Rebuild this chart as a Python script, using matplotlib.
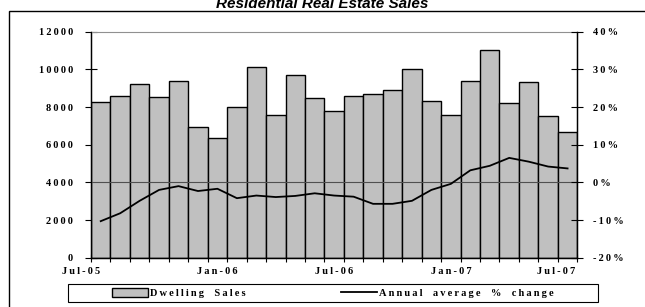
import matplotlib.pyplot as plt
from matplotlib.patches import Rectangle
from matplotlib.transforms import ScaledTranslation
import numpy as np

# monthly dwelling sales, Jul-05 .. Jul-07
months = ["Jul-05", "Aug-05", "Sep-05", "Oct-05", "Nov-05", "Dec-05",
          "Jan-06", "Feb-06", "Mar-06", "Apr-06", "May-06", "Jun-06",
          "Jul-06", "Aug-06", "Sep-06", "Oct-06", "Nov-06", "Dec-06",
          "Jan-07", "Feb-07", "Mar-07", "Apr-07", "May-07", "Jun-07", "Jul-07"]
sales = [8260, 8560, 9220, 8510, 9380, 6920, 6370, 7980, 10120, 7590, 9680, 8460,
         7800, 8600, 8710, 8880, 10000, 8300, 7590, 9400, 11010, 8210, 9310, 7500, 6690]
annual_change = [-10.3, -8.2, -4.9, -2.0, -1.0, -2.3, -1.7, -4.2, -3.5, -3.9, -3.6, -2.9,
                 -3.5, -3.8, -5.7, -5.7, -4.9, -2.0, -0.4, 3.2, 4.4, 6.5, 5.5, 4.2, 3.7]

left_ticks = [0, 2000, 4000, 6000, 8000, 10000, 12000]
right_ticks = [-20, -10, 0, 10, 20, 30, 40]
label_months = ["Jul-05", "Jan-06", "Jul-06", "Jan-07", "Jul-07"]

serif = ["Liberation Serif", "DejaVu Serif"]
W, H = 645, 307


def spaced(s):
    # the original chart draws its axis texts letter-spaced
    return "\u2009".join(s)


fig = plt.figure(figsize=(6.45, 3.07), dpi=100)
ax = fig.add_axes([91 / W, 1 - 257.7 / H, (577.3 - 91) / W, (257.7 - 31.7) / H])

x = np.arange(len(months))
ax.bar(x, sales, width=1.0, color="#c0c0c0", edgecolor="black", linewidth=1.0,
       label=spaced("Dwelling") + "\u2003" + spaced("Sales"), zorder=2)
ax.set_ylim(0, 12000)
ax.set_yticks(left_ticks)
ax.set_yticklabels([spaced(str(v)) for v in left_ticks])
ax.tick_params(axis="y", direction="inout", length=8, width=0.8, pad=9,
               labelsize=7.5)

# tick marks at month boundaries, labels every six months
ax.set_xticks(np.arange(-0.5, len(months), 1.0), minor=True)
ax.set_xticks([months.index(m) for m in label_months])
ax.set_xticklabels([spaced(m) for m in label_months])
ax.set_xlim(-0.5, len(months) - 0.5)
ax.tick_params(axis="x", which="minor", direction="inout", length=6, width=0.8)
ax.tick_params(axis="x", which="major", length=0, pad=7, labelsize=7.5)

for lab in ax.get_xticklabels() + ax.get_yticklabels():
    lab.set_family(serif)
    lab.set_fontweight("bold")

# the end labels sit a little inside the chart
xlabs = ax.get_xticklabels()
xlabs[0].set_transform(xlabs[0].get_transform()
                       + ScaledTranslation(-0.20, 0, fig.dpi_scale_trans))
xlabs[-1].set_transform(xlabs[-1].get_transform()
                        + ScaledTranslation(-0.11, 0, fig.dpi_scale_trans))

ax.spines["top"].set_color("#909090")
ax.spines["top"].set_linewidth(0.8)
for s in ["left", "bottom", "right"]:
    ax.spines[s].set_linewidth(1.0)

ax2 = ax.twinx()
ax2.set_ylim(-20, 40)
ax2.axhline(0, color="#505050", linewidth=0.8, zorder=1)
line_label = "\u2003".join(spaced(w) for w in "Annual average % change".split())
ax2.plot(x, annual_change, color="black", linewidth=1.3, label=line_label)
ax2.set_yticks(right_ticks)
ax2.set_yticklabels([spaced(f"{v}%") for v in right_ticks])
ax2.tick_params(axis="y", direction="inout", length=8, width=0.8, pad=7,
                labelsize=7.5)
for lab in ax2.get_yticklabels():
    lab.set_family(serif)
    lab.set_fontweight("bold")
ax2.spines["top"].set_visible(False)
ax2.set_xlim(-0.5, len(months) - 0.5)

# title, partly cut by the top edge as in the original
fig.text(322 / W, 1 - 8 / H, "Residential Real Estate Sales", ha="center",
         va="baseline", fontsize=11, fontweight="bold", style="italic",
         family=["Liberation Sans", "DejaVu Sans"])

# outer chart frame (cropped at right and bottom)
fig.add_artist(Rectangle((9 / W, -0.2), 1.2, 1.2 - 11 / H,
                         transform=fig.transFigure, fill=False,
                         edgecolor="black", linewidth=1.0))

# legend box
fig.add_artist(Rectangle((68 / W, 1 - 302 / H), (598 - 68) / W, 18 / H,
                         transform=fig.transFigure, fill=False,
                         edgecolor="black", linewidth=0.8))
h1, l1 = ax.get_legend_handles_labels()
h2, l2 = ax2.get_legend_handles_labels()
fig.legend(h1 + h2, l1 + l2, ncol=2, loc="center",
           bbox_to_anchor=(333 / W, 1 - 293 / H), frameon=False,
           prop={"family": serif, "weight": "bold", "size": 7.5},
           handlelength=3.4, handleheight=0.9, borderpad=0.2,
           columnspacing=9.2, handletextpad=0.2)

fig.savefig("out.png", dpi=100)
